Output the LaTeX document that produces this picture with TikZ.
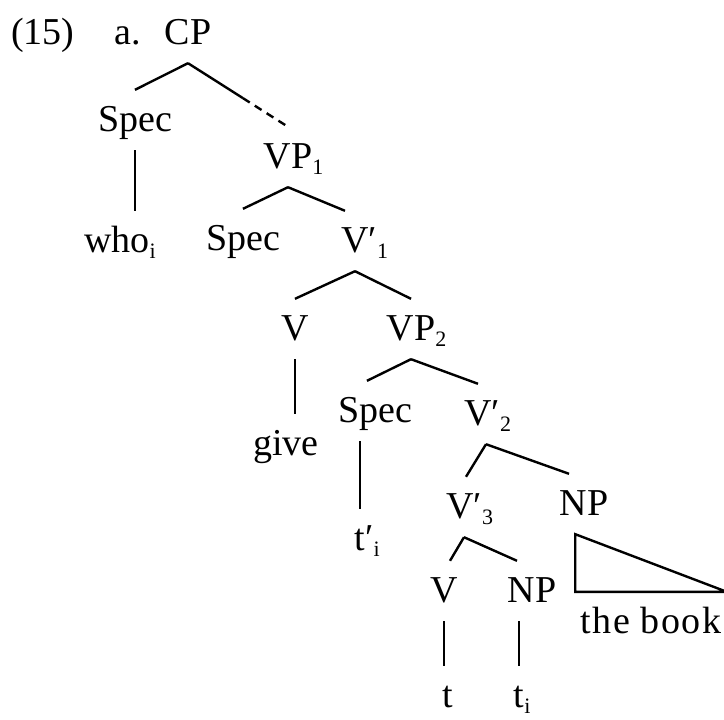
\documentclass[tikz,border=0pt]{standalone}
\usepackage{fontspec}
\setmainfont{Liberation Serif}
\usetikzlibrary{calc}

\newcommand{\sbs}[1]{\rlap{\raisebox{-6pt}{\fontsize{22}{22}\selectfont #1}}}
\newcommand{\prsbs}[1]{\rlap{′\raisebox{-6pt}{\fontsize{22}{22}\selectfont #1}}}

\begin{document}
\begin{tikzpicture}[x=1pt,y=-1pt,line width=2.4pt,
  every node/.style={font=\fontsize{38}{40}\selectfont,anchor=base,
    text height=30pt,text depth=8pt,inner ysep=10pt,inner xsep=4pt}]
\useasboundingbox (0,0) rectangle (724,720);

\node[anchor=base west] (exno) at (6,44) {(15)};
\node[anchor=base west] (exa) at (109,44) {a.};

\node (cp) at (188,44) {CP};
\node (spec1) at (135,131) {Spec};
\node (vp1) at (288,168) {VP\sbs{1}};
\node (who) at (117,252) {who\sbs{i}};
\node (spec2) at (243,250) {Spec};
\node (vb1) at (355,252) {V\prsbs{1}};
\node (v1) at (295,340) {V};
\node (vp2) at (411,340) {VP\sbs{2}};
\node (give) at (286,455) {give};
\node (spec3) at (375,422) {Spec};
\node (vb2) at (478,425) {V\prsbs{2}};
\node (tp) at (360,550) {t\prsbs{i}};
\node (vb3) at (460,518) {V\prsbs{3}};
\node (np1) at (584,515) {NP};
\node (v2) at (444,602) {V};
\node (np2) at (532,602) {NP};
\node (book) at (651,633) {\addfontfeature{LetterSpace=4}the book};
\node (t) at (448,707) {t};
\node (ti) at (519,707) {t\sbs{i}};

% branches
\draw (cp.south) -- (spec1.north);
\draw (cp.south) -- ($(cp.south)!0.55!(vp1.north)$) coordinate (cpmid);
\draw[dash pattern=on 8pt off 6pt] (cpmid) -- (vp1.north);
\draw (spec1.south) -- (spec1.south |- who.north);
\draw (vp1.south) -- (spec2.north);
\draw (vp1.south) -- ([xshift=-10pt]vb1.north);
\draw (vb1.south) -- (v1.north);
\draw (vb1.south) -- (vp2.north);
\draw (v1.south) -- (v1.south |- give.north);
\draw (vp2.south) -- ([xshift=-8pt]spec3.north);
\draw (vp2.south) -- (vb2.north);
\draw (tp.north |- spec3.south) -- (tp.north);
\draw ([xshift=8pt]vb2.south) -- ([xshift=6pt]vb3.north);
\draw ([xshift=8pt]vb2.south) -- ([xshift=-15pt]np1.north);
\draw ([xshift=4pt]vb3.south) -- ([xshift=6pt]v2.north);
\draw ([xshift=4pt]vb3.south) -- ([xshift=-15pt]np2.north);
\draw (v2.south) -- (v2.south |- t.north);
\draw (ti.north |- np2.south) -- (ti.north);

% triangle over the book
\draw (np1.south -| book.west) -- (book.north west) -- (book.north east) -- cycle;
\end{tikzpicture}
\end{document}
